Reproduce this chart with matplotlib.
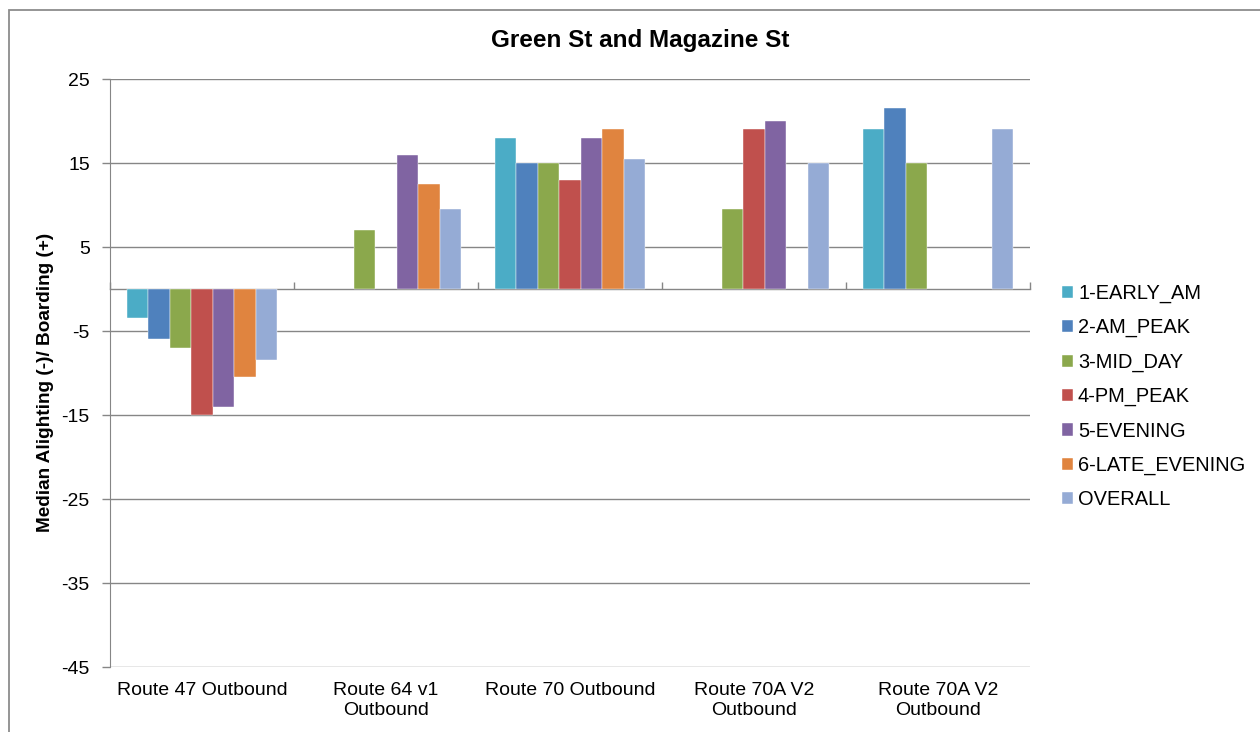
import numpy as np
import matplotlib
matplotlib.use('Agg')
import matplotlib.pyplot as plt
from matplotlib.patches import Rectangle

plt.rcParams['font.family'] = ['Liberation Sans', 'DejaVu Sans']
plt.rcParams['axes.unicode_minus'] = False

# data
routes = ['Route 47 Outbound', 'Route 64 v1\nOutbound', 'Route 70 Outbound',
          'Route 70A V2\nOutbound', 'Route 70A V2\nOutbound']
periods = ['1-EARLY_AM', '2-AM_PEAK', '3-MID_DAY', '4-PM_PEAK',
           '5-EVENING', '6-LATE_EVENING', 'OVERALL']
nan = np.nan
early_am = [-3.5, nan, 18, nan, 19]
am_peak = [-6, nan, 15, nan, 21.5]
mid_day = [-7, 7, 15, 9.5, 15]
pm_peak = [-15, nan, 13, 19, nan]
evening = [-14, 16, 18, 20, nan]
late_evening = [-10.5, 12.5, 19, nan, nan]
overall = [-8.5, 9.5, 15.5, 15, 19]
series = [early_am, am_peak, mid_day, pm_peak, evening, late_evening, overall]
colors = ['#4BACC6', '#4F81BD', '#8BA84C', '#C0504D', '#8064A2', '#E0843F', '#95ABD5']

W, H = 1260, 732
fig = plt.figure(figsize=(W / 100, H / 100), dpi=100)
ax = fig.add_axes([110 / W, 1 - 667 / H, 920 / W, 588 / H])

grid_c = '#868686'
x = np.arange(len(routes))
bw = 0.117
for i, (vals, c) in enumerate(zip(series, colors)):
    ax.bar(x + (i - 3) * bw, vals, width=bw, color=c, label=periods[i],
           edgecolor='white', linewidth=0.3, zorder=3)

ymin, ymax = -45, 25
ax.set_ylim(ymin, ymax)
ax.set_xlim(-0.5, len(routes) - 0.5)
ax.set_yticks(np.arange(ymin, ymax + 1, 10))
ax.yaxis.grid(True, color=grid_c, linewidth=1.0, zorder=0)
ax.set_axisbelow(True)
for s in ['top', 'right', 'bottom']:
    ax.spines[s].set_visible(False)
ax.spines['left'].set_color(grid_c)
ax.tick_params(axis='y', length=6, width=1, color=grid_c, pad=8.5, labelsize=14)
ax.set_xticks(x)
ax.set_xticklabels(routes, fontsize=14, linespacing=1.2)
ax.tick_params(axis='x', length=0, pad=11)

# category axis sits at zero
zero_pos = (0 - ymin) / (ymax - ymin)
sec = ax.secondary_xaxis(zero_pos)
sec.set_xticks(np.arange(len(routes) + 1) - 0.5)
sec.set_xticklabels([])
sec.tick_params(length=5, width=1, color=grid_c, direction='out')
for sp in sec.spines.values():
    sp.set_color(grid_c)
    sp.set_linewidth(1.0)

fig.text(640 / W, 1 - 41 / H, 'Green St and Magazine St', fontsize=17.5,
         fontweight='bold', ha='center', va='center')
fig.text(46 / W, 1 - 382 / H, 'Median Alighting (-)/ Boarding (+)', fontsize=13.7,
         fontweight='bold', rotation=90, ha='center', va='center')

fig.legend(loc='center left', bbox_to_anchor=(1062 / W, 1 - 396.5 / H),
           frameon=False, fontsize=14.4, handlelength=0.55, handleheight=0.55,
           handletextpad=0.25, labelspacing=0.76, borderpad=0, borderaxespad=0)

fig.patches.append(Rectangle((9 / W, -0.1), 1.2, 1.1 - 10 / H, transform=fig.transFigure,
                             fill=False, edgecolor='#8C8C8C', linewidth=1.3))

fig.savefig('out.png', dpi=100)
